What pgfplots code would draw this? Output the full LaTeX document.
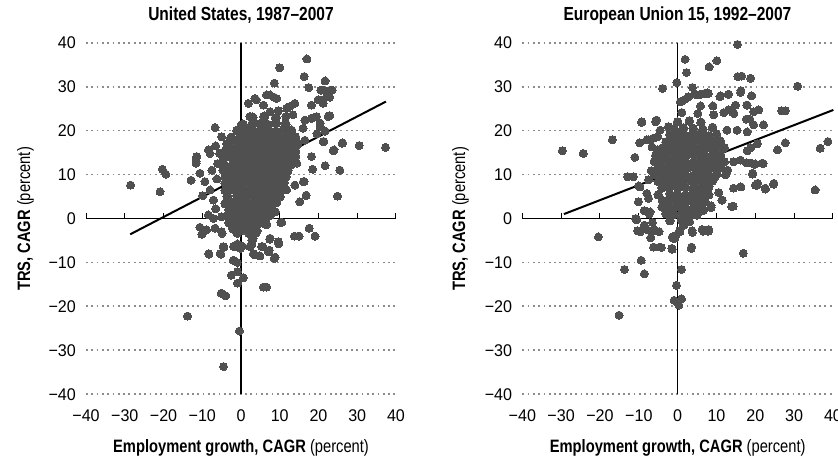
\documentclass[border=0pt]{standalone}
\usepackage{fontspec}
\setmainfont{Liberation Sans}
\newfontfamily\condfont{Liberation Sans}[FakeStretch=0.82]
\newfontfamily\tickfont{Liberation Sans}[FakeStretch=0.95]
\usepackage{pgfplots}
\pgfplotsset{compat=1.18}
\definecolor{dotgray}{RGB}{80,80,80}
\definecolor{gridgray}{RGB}{140,140,140}
\tikzset{tk/.style={black, line width=1bp}}
\pgfplotsset{panel/.style={
  scale only axis, height=351.6bp,
  xmin=-40,xmax=40,ymin=-40,ymax=40,
  axis line style={draw=none},
  xtick={-40,-30,...,40}, ytick={-40,-30,...,40},
  xticklabels={−40,−30,−20,−10,0,10,20,30,40},
  yticklabels={−40,−30,−20,−10,0,10,20,30,40},
  major tick length=0pt,
  ymajorgrids,
  grid style={color=gridgray, line width=1.8bp, dash pattern=on 1.8bp off 3.5bp},
  tick label style={font=\fontsize{17}{17}\selectfont\tickfont},
  yticklabel style={anchor=east, inner sep=0pt, xshift=-10bp},
  xticklabel style={anchor=base, inner sep=0pt, yshift=-27bp},
  clip=false,
},
dots/.style={only marks, mark=*, mark size=4.0bp, color=dotgray, mark options={draw=dotgray, fill=dotgray, line width=0pt}}}
\newcommand{\zeroaxes}{%
\draw[black, line width=1.2bp] (axis cs:-40,0) -- (axis cs:40,0);
\draw[black, line width=1.2bp] (axis cs:0,-40) -- (axis cs:0,40);
\draw[tk] (axis cs:-40,0) -- ([yshift=5.5bp]axis cs:-40,0);
\draw[tk] (axis cs:-30,0) -- ([yshift=5.5bp]axis cs:-30,0);
\draw[tk] (axis cs:-20,0) -- ([yshift=5.5bp]axis cs:-20,0);
\draw[tk] (axis cs:-10,0) -- ([yshift=5.5bp]axis cs:-10,0);
\draw[tk] (axis cs:10,0) -- ([yshift=5.5bp]axis cs:10,0);
\draw[tk] (axis cs:20,0) -- ([yshift=5.5bp]axis cs:20,0);
\draw[tk] (axis cs:30,0) -- ([yshift=5.5bp]axis cs:30,0);
\draw[tk] (axis cs:40,0) -- ([yshift=5.5bp]axis cs:40,0);}
\begin{document}
\begin{tikzpicture}
\useasboundingbox (0,0) rectangle (838bp,462bp);
% ---------------- United States ----------------
\begin{axis}[panel, at={(86bp,67.7bp)}, anchor=south west, width=310bp]
\zeroaxes
\addplot[dots] coordinates {
(-28.5,7.6) (-20.9,6.1) (-20.3,11.2) (-19.4,10.1) (-12.9,8.7) (-11.6,13.6) (-11.6,12.6) (-9.9,5.2) (-6.7,20.7) (-8.3,15.6) (-8.0,14.8) (0,21.3) (10,34.3) (17,36.3) (16.3,32.3) (21.7,31.3) (17.5,29.8) (21.4,29.2) (23.5,29.2) (22.9,27.6) (20.8,26.9) (8.6,30.8) (3.9,27) (1.9,26.2) (6.6,28.1) (8.5,27.6) (30.5,16.6) (37.3,16.2) (26.1,17.1) (24,15.6) (21.7,12) (25.5,11.0) (24.9,5.1) (18.2,14.1) (18.5,11.2) (16.3,8.4) (16.8,5.3) (15.2,3.8) (18.2,22.8) (22.9,23.4) (20.4,21.7) (21.7,19.9) (21.4,17.5) (19.6,19.3) (16.0,20.5) (16.5,17.8) (13.9,26.2) (12.6,25.5) (11.6,23.2) (13.4,23.6) (11.8,6.5) (9.2,3.6) (8.8,1.6) (10.3,-0.9) (17.6,-2.2)
(-10.1,-3.6) (-9.5,-2.8) (-8.3,-8.0) (-5.4,-8.0) (-4.4,-6.5) (-1.9,-6.3) (-0.9,-5.8) (0.3,-6.3) (-0.2,-6.8) (-2,-9.5) (-1.0,-10) (-0.9,-12.1) (0.6,-13.5) (-0.9,-14.7) (-2.5,-12.9) (-5.1,-17) (-3.9,-17.6) (-13.8,-22.2) (-0.4,-25.6) (-4.5,-33.7) (5.8,-15.6) (6.6,-15.6) (3.2,-8.0) (4.9,-8.5) (7.1,-7.6) (5.6,-6.4) (8.6,-9.1) (9.7,-5.8) (7.4,-4.7) (2.8,-5.9) (3.1,-4.6) (13.8,-4.0) (15.0,-4.0) (19.1,-4.0) (-4.9,-3.4) (-1.0,-3.4) (2.0,-3.4) (3.7,-3.4)
(-11.6,12.9) (-10.6,-2) (-8.9,-2.6) (-8.4,0.8) (-7.1,0) (-5,0.4) (-6.7,-2.2) (-5,-3) (-4.6,-6.4) (-5.2,-8.1) (-8.3,-8.1) (-1.8,-6.4) (2.3,-3.4) (4.0,-3.1) (2.8,-4.9) (2.3,-6.4) (5.3,-6.4) (7.5,-4.5) (9.6,-5.3) (8.8,-8.8) (7.3,-7.2) (3.6,-8.3) (10.5,-0.9) (8.8,1.5) (13.9,7.6) (16.1,8.4) (16.8,5.2) (14.4,12.6) (23.8,15.4) (21.2,17.5) (26.2,17.2)
(20.6,29.2) (23,29.2) (22.1,27.7) (19.9,27) (21.2,26.2) (18.2,25.8) (3.6,27.3) (5.8,25.8) (7.5,28.1) (9.2,27.3) (11.8,25.1) (2.3,23.2) (7.5,24.3) (9.6,24.5) (16.5,22.4) (19.5,23.2) (22.5,23.2) (20.4,20.9) (-5,18.6) (-8.4,15.6) (-11.4,14.1)
(-10.6,10.3) (-9.3,8.4) (-8,6.5) (-7.1,4.2) (-6.5,2.2) (-7.5,11) (-6.2,9) (-6,12.5) (-6.5,16.5) (-5.5,14.8)
};
\addplot[dots, mark size=4.6bp] coordinates {
(-2,-2.3) (0.2,-2.6) (2.1,-2.2) (4,-2.8)
(-3,-1) (-1,-0.8) (1,-1.2) (3,-1) (5,-0.9) (6.5,-1.3)
(-3.5,0.6) (-2,0.4) (0,0.7) (2,0.3) (4,0.6) (6,0.4) (7.5,0.8)
(-3,2) (-1,2.2) (1,1.9) (3,2.1) (5,2) (7,2.2) (8,1.8)
(-4,3.4) (-2,3.6) (0,3.5) (2,3.3) (4,3.7) (6,3.5) (8,3.4) (9,3.8)
(-3.5,5) (-1,5.2) (1,4.9) (3,5.1) (5,5) (7,4.8) (9,5.2) (10,5)
(-4,6.4) (-2,6.6) (0,6.5) (2,6.3) (4,6.6) (6,6.5) (8,6.4) (10,6.7)
(-4,8) (-3,8.2) (-1,7.9) (1,8.1) (3,8) (5,7.8) (7,8.2) (9,8) (11,8.1)
(-4,9.4) (-2,9.6) (0,9.5) (2,9.3) (4,9.7) (6,9.5) (8,9.4) (10,9.6) (11.5,9.5)
(-4.5,11) (-3,11.2) (-1,10.9) (1,11.1) (3,11) (5,10.8) (7,11.2) (9,11) (11,11.1) (12,10.9)
(-4.5,12.4) (-2,12.6) (0,12.5) (2,12.3) (4,12.7) (6,12.5) (8,12.4) (10,12.6) (12,12.5) (13,12.3)
(-4.5,14) (-3,14.2) (-1,13.9) (1,14.1) (3,14) (5,13.8) (7,14.2) (9,14) (11,14.1) (13,13.9) (14,14.2)
(-4,15.4) (-2,15.6) (0,15.5) (2,15.3) (4,15.7) (6,15.5) (8,15.4) (10,15.6) (12,15.5) (14,15.3)
(-3.5,17) (-1,17.2) (1,16.9) (3,17.1) (5,17) (7,16.8) (9,17.2) (11,17) (13,17.1) (14.5,16.9)
(-2.5,18.4) (0,18.6) (2,18.5) (4,18.3) (6,18.7) (8,18.5) (10,18.4) (12,18.6) (14,18.5)
(-1,20) (1,20.2) (3,19.9) (5,20.1) (7,20) (9,19.8) (11,20.2) (13,20)
(0.5,21.4) (3,21.6) (5,21.5) (7,21.3) (9,21.7) (11.5,21.5)
(3,23) (6,23.2) (9,22.9)
};
\draw[black, line width=2bp] (axis cs:-28.6,-3.6) -- (axis cs:37.4,26.6);
\end{axis}
% ---------------- European Union 15 ----------------
\begin{axis}[panel, at={(522.3bp,67.7bp)}, anchor=south west, width=310.7bp]
\zeroaxes
\addplot[dots] coordinates {
(-29.7,15.4) (-24.3,14.8) (-16.8,17.9) (-11,13.9) (-12.9,9.5) (-11.4,9.5) (-3.9,29.6) (-0.2,30.9) (1.9,36.2) (2.3,33.2) (3.8,29.8) (2.8,27.7) (1.0,26.6) (8.1,34.5) (10.1,35.9) (15.4,39.6) (15.5,32.3) (16.5,32.4) (18.8,31.9) (30.9,30.1) (16.3,29.1) (19.1,27.9) (13.1,28.3) (10.9,27.7) (4.9,28.1) (6.8,28.4) (7.9,28.4) (17.8,25.8) (20.8,24.7) (26.8,24.5) (27.7,24.5) (22.1,21.3) (27.7,17.2) (25.7,15.6) (36.7,16) (38.7,17.5) (35.4,6.5) (24.8,8) (22.5,6.9) (21.8,12.6) (19.3,10.3) (20.4,7.6) (19.0,12.6) (19.9,12.3) (14.4,6.9) (16.3,7.2) (13.9,2.7) (11.5,4.2) (8.6,2.5) (6.6,1.8) (-9.7,7.2) (-10.1,3.8) (-7.9,5.7) (-7.1,1.5) (-10.8,0) (-9.3,21.9) (-5.4,22.4) (-7.6,17.9) (-5.1,18.6) (-9.8,17.2) (-2.4,20.9) (13.1,24.7) (14.1,24.1)
(-20.4,-4.2) (-15.1,-22) (-13.7,-11.6) (-9.4,-9.5) (-8.6,-12.6) (-6.2,-6.5) (-4.5,-6.5) (-1.5,-6.8) (-6.9,-4.4) (-9.6,-3) (-6.6,-3) (-4.8,-3) (-1.4,-4.2) (-0.7,-4.5) (0.6,-3) (3.6,-6.5) (3.8,-3.2) (6.6,-2.9) (7.9,-2.9) (16.9,-7.9) (1.0,-11.6) (-0.3,-15.2) (-0.9,-18.6) (1.0,-18.3) (0.3,-19.7)
(-6.8,10.9) (-7.5,8.8) (-10,7.4) (-7.5,4.6) (-8.6,1.8) (-7.3,1.0) (-10.5,-0.3) (-8.6,-1.5) (-10.3,-2.8) (-7.8,-2.6) (-5.9,-2.6) (-6.5,-0.9) (-4.2,-6.6) (-1.2,-4.5) (1.6,-1.5) (3.7,-2.8) (6.3,-2.5) (3.5,-6.8) (6.7,3.8) (8.6,2.9) (6.3,2.3) (4.1,0.8) (2.4,0.8) (-2.9,1.9) (-1.1,2.3) (-4,4.2)
(4.3,28.3) (6.0,28.3) (7.6,28.6) (11.0,27.9) (13.1,28.2) (16.2,28.7) (19,27.9) (0.7,26.6) (1.9,27.1) (5.9,25.6) (9.1,25.6) (14.9,25.8) (17.9,25.8) (1.1,24.1) (5.2,23.9) (9.3,23.6) (11.9,24.1) (14.5,23.9) (19.6,24.3) (20.9,24.7) (17.7,22.6) (18.6,22.6) (19.6,21.3) (12.7,20.1) (15.3,20.1) (17.9,19.7) (-9.2,22.0) (-5.7,22) (-4.5,20.1) (-7.9,17.9) (-6.2,18.3) (-6.6,16.3) (-5.3,15.6) (-5.7,14.4) (20.5,17) (17.9,15.4) (18.8,16.1)
(17.7,12.7) (20,12.4) (22,12.5) (19.3,10.1) (20,7.6) (20.6,8.0) (22.6,6.7) (24.7,7.8) (16.2,7.2) (14.3,2.8) (11.4,4.2) (10.6,5.9) (8.4,9.1) (9.7,9.5) (12.3,9.9) (12.9,11) (14.4,12.9) (16.2,13.3) (8,-2.5) (1.5,-1.5) (-1.4,-7.0) (-0.4,-3.8) (0.5,-2.8)
};
\addplot[dots, mark size=4.3bp] coordinates {
(-2,-0.5) (1,-0.3) (3,-0.7)
(-3,1.1) (-1,0.9) (1,1.2) (3,1) (5,0.8)
(-4,2.6) (-2,2.4) (0,2.7) (2,2.5) (4,2.3) (6,2.6)
(-3,4) (-1,4.2) (1,3.9) (3,4.1) (5,4) (7,3.8)
(-5,5.4) (-2,5.6) (0,5.5) (2,5.3) (4,5.7) (6,5.5) (8,5.4)
(-4,7) (-2,7.2) (0,6.9) (2,7.1) (4,7) (6,6.8) (8,7.2)
(-5,8.4) (-3,8.6) (-1,8.5) (1,8.3) (3,8.7) (5,8.5) (7,8.4) (9,8.6)
(-6,10) (-4,10.2) (-2,9.9) (0,10.1) (2,10) (4,9.8) (6,10.2) (8,10) (10,10.1)
(-5,11.4) (-3,11.6) (-1,11.5) (1,11.3) (3,11.7) (5,11.5) (7,11.4) (9,11.6) (11,11.5)
(-6,13) (-4,13.2) (-2,12.9) (0,13.1) (2,13) (4,12.8) (6,13.2) (8,13) (10,13.1) (12,12.9)
(-5,14.4) (-3,14.6) (-1,14.5) (1,14.3) (3,14.7) (5,14.5) (7,14.4) (9,14.6) (11,14.5)
(-4,16) (-2,16.2) (0,15.9) (2,16.1) (4,16) (6,15.8) (8,16.2) (10,16) (12,16.1)
(-3,17.4) (-1,17.6) (1,17.5) (3,17.3) (5,17.7) (7,17.5) (9,17.4) (11,17.6)
(-2,19) (0,19.2) (2,18.9) (4,19.1) (6,19) (8,18.8) (10,19.2)
(-1,20.4) (1.5,20.6) (4,20.5) (6.5,20.3) (9,20.7)
(0,22) (3,22.2) (6,21.9)
};
\draw[black, line width=2bp] (axis cs:-29.3,1.0) -- (axis cs:40.1,24.7);
\end{axis}
% titles and labels
\node[anchor=base, font=\fontsize{19}{19}\selectfont\condfont\bfseries] at (241bp,441.3bp) {United States, 1987–2007};
\node[anchor=base, font=\fontsize{19}{19}\selectfont\condfont\bfseries] at (677.5bp,441.3bp) {European Union 15, 1992–2007};
\node[anchor=base, font=\fontsize{18}{18}\selectfont\condfont] at (241bp,9.3bp) {\textbf{Employment growth, CAGR} (percent)};
\node[anchor=base, font=\fontsize{18}{18}\selectfont\condfont] at (677.7bp,9.3bp) {\textbf{Employment growth, CAGR} (percent)};
\node[anchor=base, rotate=90, font=\fontsize{18}{18}\selectfont\condfont] at (30bp,243bp) {\textbf{TRS, CAGR} (percent)};
\node[anchor=base, rotate=90, font=\fontsize{18}{18}\selectfont\condfont] at (465bp,243bp) {\textbf{TRS, CAGR} (percent)};
\end{tikzpicture}
\end{document}
